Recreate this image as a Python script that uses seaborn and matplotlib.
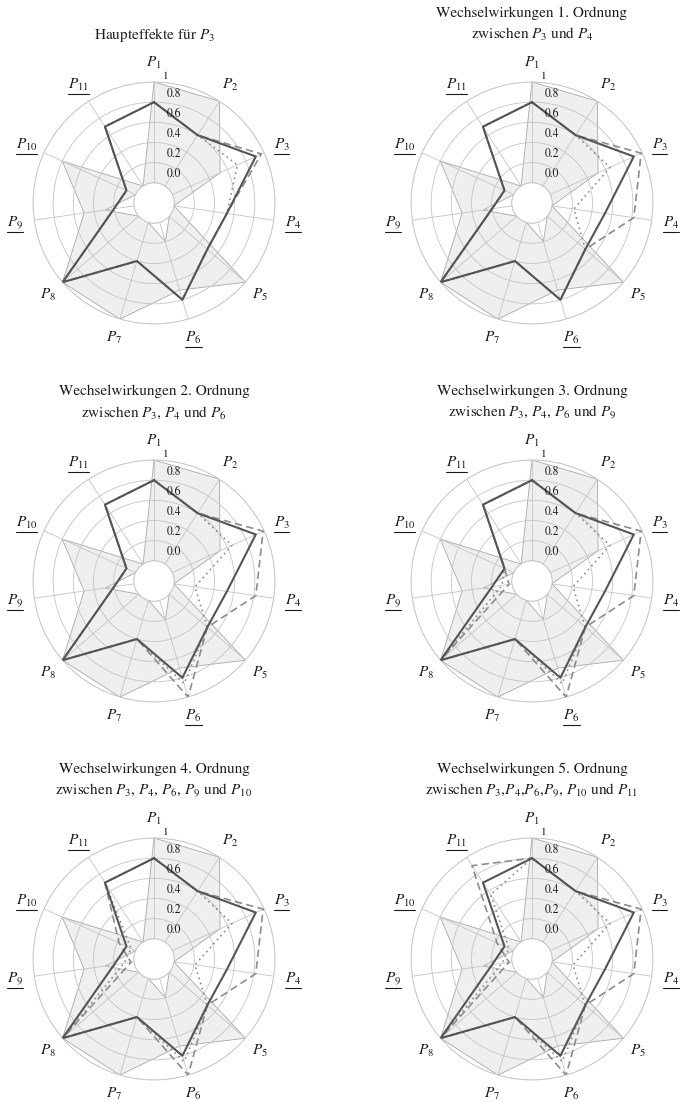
import numpy as np
import pandas as pd
import matplotlib
matplotlib.use("Agg")
import matplotlib.pyplot as plt
import seaborn as sns
from matplotlib.lines import Line2D

sns.set_theme(style="white")
plt.rcParams["font.family"] = ["STIXGeneral", "DejaVu Serif"]
plt.rcParams["mathtext.fontset"] = "stix"

# ---- data -------------------------------------------------------------
param_labels = [r"$P_1$", r"$P_2$", r"$P_3$", r"$P_4$", r"$P_5$", r"$P_6$",
                r"$P_7$", r"$P_8$", r"$P_9$", r"$P_{10}$", r"$P_{11}$"]
underlined = [False, False, True, True, False, True, False, False, True, True, True]

radial_ticks = [0.0, 0.2, 0.4, 0.6, 0.8]
radial_tick_labels = ["0.0", "0.2", "0.4", "0.6", "0.8"]

# shaded range of the parameter space (upper and lower boundary)
band_high = [1.00, 1.00, 0.52, 0.00, 1.00, 0.70, 1.00, 1.00, 0.50, 0.80, 0.00]
band_low = [0.00, 0.00, 0.00, 0.00, 0.00, 0.20, 0.00, 0.00, 0.29, 0.00, 0.00]
# nominal design
nominal = [0.80, 0.60, 0.91, 0.53, 0.50, 0.80, 0.40, 1.00, 0.20, 0.10, 0.70]

# upper (dashed) and lower (dotted) response for each effect order
upper_0 = [0.80, 0.60, 0.97, 0.53, 0.50, 0.80, 0.40, 1.00, 0.20, 0.10, 0.70]
lower_0 = [0.80, 0.60, 0.71, 0.53, 0.50, 0.80, 0.40, 1.00, 0.20, 0.10, 0.70]
upper_1 = [0.80, 0.60, 0.99, 0.82, 0.50, 0.80, 0.40, 1.00, 0.20, 0.10, 0.70]
lower_1 = [0.80, 0.60, 0.65, 0.22, 0.50, 0.80, 0.40, 1.00, 0.20, 0.10, 0.70]
upper_2 = [0.80, 0.60, 0.99, 0.82, 0.50, 1.00, 0.40, 1.00, 0.20, 0.10, 0.70]
lower_2 = [0.80, 0.60, 0.65, 0.21, 0.50, 0.86, 0.40, 1.00, 0.20, 0.10, 0.70]
upper_3 = [0.80, 0.60, 0.99, 0.82, 0.50, 1.00, 0.40, 1.00, 0.03, 0.10, 0.70]
lower_3 = [0.80, 0.60, 0.65, 0.21, 0.50, 0.86, 0.40, 1.00, 0.10, 0.10, 0.70]
upper_4 = [0.80, 0.60, 0.99, 0.82, 0.50, 1.00, 0.40, 1.00, 0.03, 0.18, 0.70]
lower_4 = [0.80, 0.60, 0.65, 0.21, 0.50, 0.86, 0.40, 1.00, 0.10, 0.05, 0.70]
upper_5 = [0.80, 0.60, 0.99, 0.82, 0.50, 1.00, 0.40, 1.00, 0.03, 0.18, 0.90]
lower_5 = [0.80, 0.60, 0.65, 0.21, 0.50, 0.86, 0.40, 1.00, 0.10, 0.05, 0.56]

titles = [
    ["", r"Haupteffekte für $P_3$"],
    ["Wechselwirkungen 1. Ordnung", r"zwischen $P_3$ und $P_4$"],
    ["Wechselwirkungen 2. Ordnung", r"zwischen $P_3$, $P_4$ und $P_6$"],
    ["Wechselwirkungen 3. Ordnung", r"zwischen $P_3$, $P_4$, $P_6$ und $P_9$"],
    ["Wechselwirkungen 4. Ordnung", r"zwischen $P_3$, $P_4$, $P_6$, $P_9$ und $P_{10}$"],
    ["Wechselwirkungen 5. Ordnung", r"zwischen $P_3$,$P_4$,$P_6$,$P_9$, $P_{10}$ und $P_{11}$"],
]
uppers = [upper_0, upper_1, upper_2, upper_3, upper_4, upper_5]
lowers = [lower_0, lower_1, lower_2, lower_3, lower_4, lower_5]

# ---- layout -------------------------------------------------------------
W, H = 680, 1102
fig = plt.figure(figsize=(W / 100, H / 100), dpi=100)
fig.patch.set_facecolor("white")

centers_x = [154, 532]
centers_y = [203, 581, 959]
radius_px = 121

n = len(param_labels)
theta = np.linspace(0, 2 * np.pi, n, endpoint=False)
theta_closed = np.append(theta, theta[0])

GRID = "#c4c4c4"
TEXT = "#1a1a1a"
BAND_EDGE = "#a8a8a8"


def closed(values):
    return np.append(values, values[0])


def series_frame(values):
    return pd.DataFrame({"theta": theta_closed, "r": closed(np.asarray(values))})


underline_texts = []

for k in range(6):
    row, col = divmod(k, 2)
    cx, cy = centers_x[col], centers_y[row]
    ax = fig.add_axes([(cx - radius_px) / W, (H - cy - radius_px) / H,
                       2 * radius_px / W, 2 * radius_px / H], projection="polar")
    ax.set_theta_zero_location("N")
    ax.set_theta_direction(-1)
    ax.set_ylim(0, 1.0)
    ax.set_rorigin(-0.2)
    ax.set_facecolor("white")
    ax.set_axisbelow(False)

    ax.set_xticks(theta)
    ax.set_xticklabels([])
    ax.set_yticks([0.0, 0.2, 0.4, 0.6, 0.8, 1.0])
    ax.set_yticklabels([])
    ax.grid(True, color=GRID, lw=0.6, zorder=2)
    for sp in ax.spines.values():
        sp.set_color(GRID)
        sp.set_linewidth(0.6)
    ax.tick_params(length=0, pad=0)

    # shaded parameter range: outer boundary filled, inner boundary cut out
    ax.fill(theta_closed, closed(np.asarray(band_high)), facecolor="#efefef",
            edgecolor=BAND_EDGE, lw=0.6, zorder=1)
    ax.fill(theta_closed, closed(np.asarray(band_low)), facecolor="white",
            edgecolor=BAND_EDGE, lw=0.6, zorder=1.1)

    sns.lineplot(data=series_frame(lowers[k]), x="theta", y="r", ax=ax, sort=False,
                 estimator=None, color="#8c8c8c", lw=1.2, zorder=3)
    ax.lines[-1].set_linestyle((0, (1, 2.2)))
    sns.lineplot(data=series_frame(uppers[k]), x="theta", y="r", ax=ax, sort=False,
                 estimator=None, color="#8c8c8c", lw=1.2, zorder=3)
    ax.lines[-1].set_linestyle((0, (4.5, 2.5)))
    sns.lineplot(data=series_frame(nominal), x="theta", y="r", ax=ax, sort=False,
                 estimator=None, color="#555555", lw=1.5, zorder=4)
    ax.set_xlabel("")
    ax.set_ylabel("")
    ax.set_ylim(0, 1.0)

    # radial tick labels along the first spoke
    for v, lab in zip(radial_ticks, radial_tick_labels):
        ax.annotate(lab, xy=(0, v), xytext=(9, 6), textcoords="offset points",
                    ha="left", va="center", fontsize=8.5, color=TEXT, zorder=6)
    ax.annotate("1", xy=(0, 1.0), xytext=(6.5, 4), textcoords="offset points",
                ha="left", va="center", fontsize=8, color=TEXT, zorder=6,
                annotation_clip=False)

    # parameter labels around the chart
    for i, lab in enumerate(param_labels):
        t = ax.text(theta[i], 1.19, lab, ha="center", va="center", fontsize=11,
                    color=TEXT, clip_on=False)
        if underlined[i]:
            underline_texts.append(t)

    # title lines
    l1, l2 = titles[k]
    if l1:
        fig.text(cx / W, 1 - (cy - 186) / H, l1, ha="center", va="baseline",
                 fontsize=11, color=TEXT)
    fig.text(cx / W, 1 - (cy - 164.5) / H, l2, ha="center", va="baseline",
             fontsize=11, color=TEXT)

fig.canvas.draw()
renderer = fig.canvas.get_renderer()
for t in underline_texts:
    bb = t.get_window_extent(renderer)
    y = (bb.y0 - 1.0) / H
    fig.add_artist(Line2D([bb.x0 / W, bb.x1 / W], [y, y], transform=fig.transFigure,
                          lw=0.8, color=TEXT))

fig.savefig("out.png", dpi=100, facecolor="white")
